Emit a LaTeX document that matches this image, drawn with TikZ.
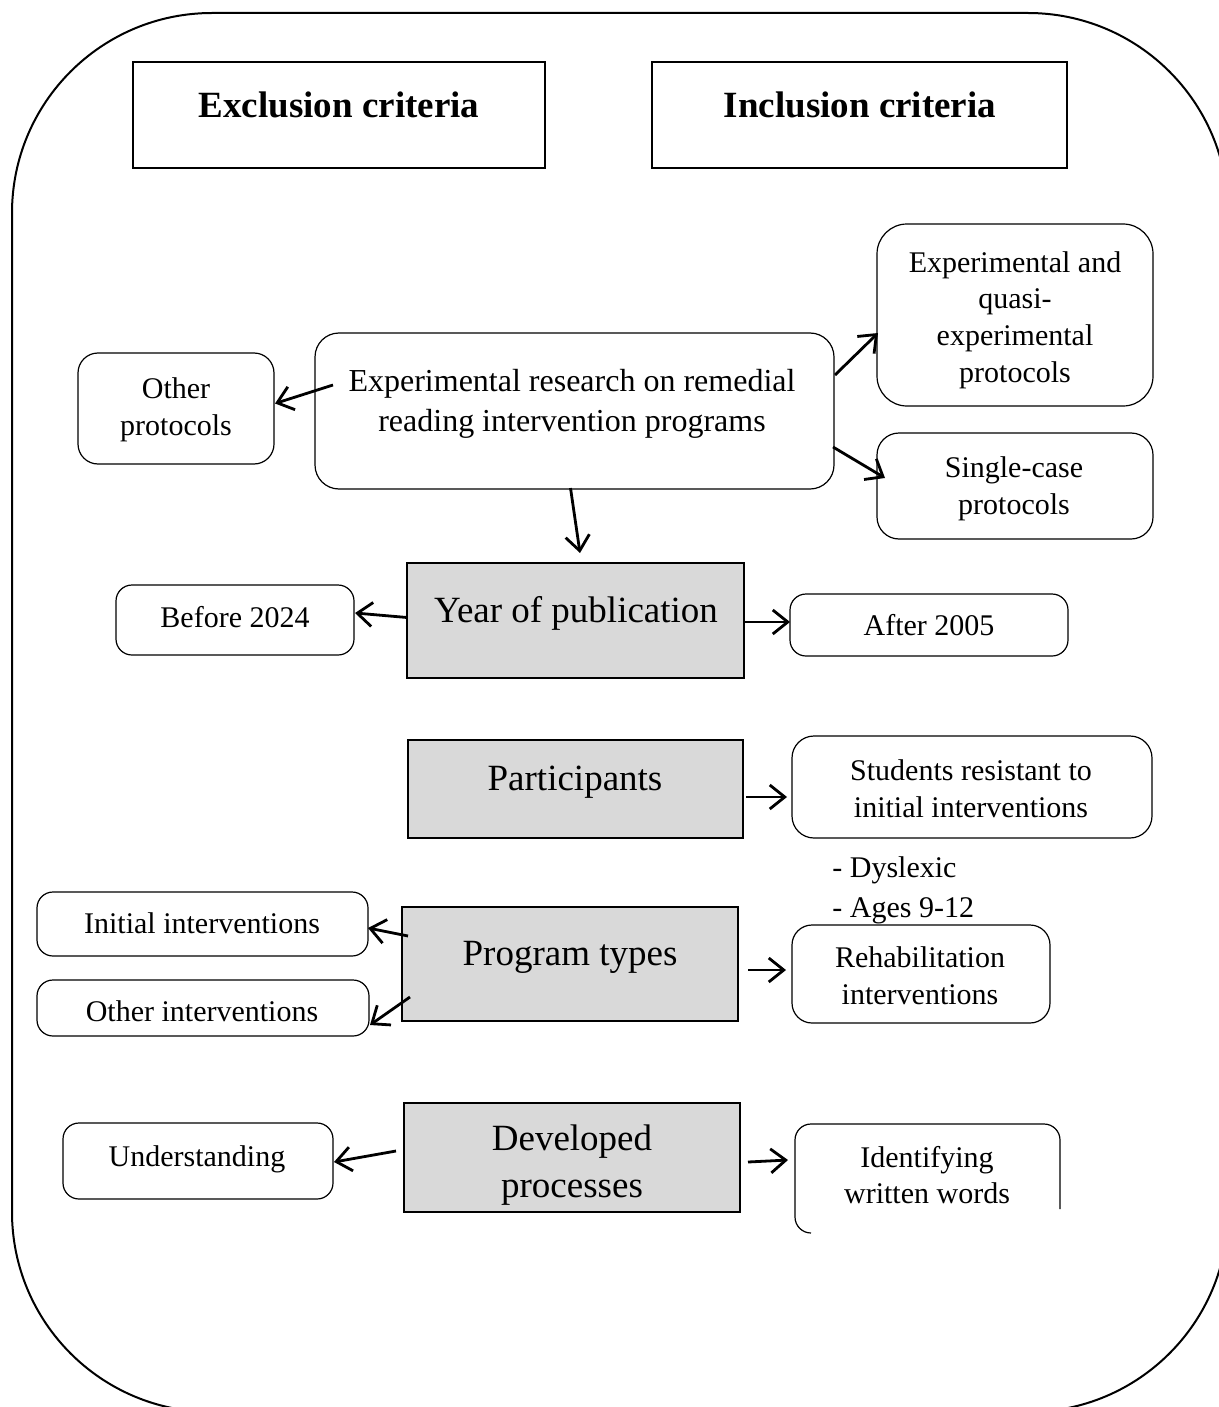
\documentclass[tikz,border=0pt]{standalone}
\usepackage{fontspec}
\setmainfont{Liberation Serif}
\usetikzlibrary{arrows.meta,calc}
\definecolor{boxgray}{RGB}{217,217,217}
\newcommand\pxbox[6]{\node[#1, anchor=north west, minimum width={(#5-#3)*0.5pt}, minimum height={(#6-#4)*0.5pt}] (#2) at (#3,#4) {};}
\tikzset{
  sharpbox/.style={draw, line width=1.25pt, outer sep=0pt, inner sep=0pt},
  graybox/.style={sharpbox, fill=boxgray},
  rbox/.style={draw, line width=0.6pt, rounded corners=8pt, outer sep=0pt, inner sep=0pt},
  smalltxt/.style={font=\fontsize{15}{18.3}\selectfont, align=center, inner sep=0pt},
  maintxt/.style={font=\fontsize{16}{20}\selectfont, align=center, inner sep=0pt},
  graytxt/.style={font=\fontsize{18.5}{23.5}\selectfont, align=center, inner sep=0pt},
  headtxt/.style={font=\fontsize{18.5}{22}\selectfont\bfseries, align=center, inner sep=0pt},
  arr/.style={line width=1.4pt, -{Straight Barb[length=7.5pt,width=12pt]}},
}
\begin{document}
\begin{tikzpicture}[x=0.5pt,y=-0.5pt]
\useasboundingbox (0,0) rectangle (1219,1407);
\clip (0,0) rectangle (1219,1407);
% outer frame
\draw[line width=1pt, rounded corners=100pt] (12,13) rectangle (1228,1412);

% headers
\pxbox{sharpbox}{excl}{133}{62}{545}{168}
\pxbox{sharpbox}{incl}{652}{62}{1067}{168}
\node[headtxt] (exclT) at (339,105) {Exclusion criteria};
\node[headtxt] (inclT) at (860,105) {Inclusion criteria};

% boxes
\pxbox{rbox, rounded corners=10pt}{other}{78}{353}{274}{464}
\pxbox{rbox, rounded corners=12pt}{main}{315}{333}{834}{489}
\pxbox{rbox, rounded corners=15pt}{exp}{877}{224}{1153}{406}
\pxbox{rbox, rounded corners=11pt}{single}{877}{433}{1153}{539}
\pxbox{graybox}{year}{407}{563}{744}{678}
\pxbox{rbox}{before}{116}{585}{354}{655}
\pxbox{rbox}{after}{790}{594}{1068}{656}
\pxbox{graybox}{part}{408}{740}{743}{838}
\pxbox{rbox, rounded corners=11pt}{students}{792}{736}{1152}{838}
\pxbox{graybox}{prog}{402}{907}{738}{1021}
\pxbox{rbox}{initial}{37}{892}{368}{956}
\pxbox{rbox}{otherint}{37}{980}{369}{1036}
\pxbox{rbox, rounded corners=10pt}{rehab}{792}{925}{1050}{1023}
\pxbox{graybox}{dev}{404}{1103}{740}{1212}
\pxbox{rbox}{under}{63}{1123}{333}{1199}
\pxbox{rbox, draw=none}{ident}{795}{1124}{1060}{1233}
\draw[line width=0.6pt, rounded corners=8pt] ($(ident.north east)+(0,85)$) -- (ident.north east) -- (ident.north west) -- (ident.south west) -- ($(ident.south west)+(16,0)$);

% texts
\node[smalltxt] (otherT) at (176,410) {Other\\protocols};
\node[maintxt] (mainT) at (572,404) {Experimental research on remedial\\reading intervention programs};
\node[smalltxt] (expT) at (1015,320) {Experimental and\\quasi-\\experimental\\protocols};
\node[smalltxt] (singleT) at (1014,489) {Single-case\\protocols};
\node[graytxt] (yearT) at (576,613) {Year of publication};
\node[smalltxt] (beforeT) at (235,617) {Before 2024};
\node[smalltxt] (afterT) at (929,625) {After 2005};
\node[graytxt] (partT) at (575,782) {Participants};
\node[smalltxt] (studentsT) at (971,789) {Students resistant to\\initial interventions};
\node[font=\fontsize{15}{20}\selectfont, align=left, inner sep=0pt, anchor=west] (dysT) at (832,890) {- Dyslexic\\- Ages 9-12};
\node[graytxt] (progT) at (570,957) {Program types};
\node[smalltxt] (initialT) at (202,923) {Initial interventions};
\node[smalltxt] (otherintT) at (202,1011) {Other interventions};
\node[smalltxt] (rehabT) at (920,976) {Rehabilitation\\interventions};
\node[graytxt] (devT) at (572,1165) {Developed\\processes};
\node[smalltxt] (underT) at (197,1159) {Understanding};
\node[smalltxt] (identT) at (927,1175) {Identifying\\written words};

% arrows
\draw[arr] ($(main.west)+(18,-26)$) -- ($(other.east)+(1,-5)$);
\draw[arr] ($(main.east)+(1,-36)$) -- ($(exp.west)+(1,18)$);
\draw[arr] ($(main.east)+(-1,36)$) -- ($(single.west)+(8,-8)$);
\draw[arr] ($(main.south)+(-4,-1)$) -- ($(year.north)+(4.5,-10)$);
\draw[arr] ($(year.west)+(0,-3)$) -- ($(before.east)+(1,-7)$);
\draw[arr] ($(year.east)+(0,1.5)$) -- ($(after.west)+(0,-3)$);
\draw[arr] ($(part.east)+(3,8)$) -- ($(students.west)+(-5,10)$);
\draw[arr] ($(prog.west)+(6,-28)$) -- ($(initial.east)+(0,4)$);
\draw[arr] ($(prog.west)+(8,33)$) -- ($(otherint.east)+(1,17)$);
\draw[arr] ($(prog.east)+(10,6)$) -- ($(rehab.west)+(-6,-4)$);
\draw[arr] ($(dev.west)+(-8,-6.5)$) -- ($(under.east)+(1,1)$);
\draw[arr] ($(dev.east)+(8,4.5)$) -- ($(ident.west)+(-7,-18.5)$);
\end{tikzpicture}
\end{document}
